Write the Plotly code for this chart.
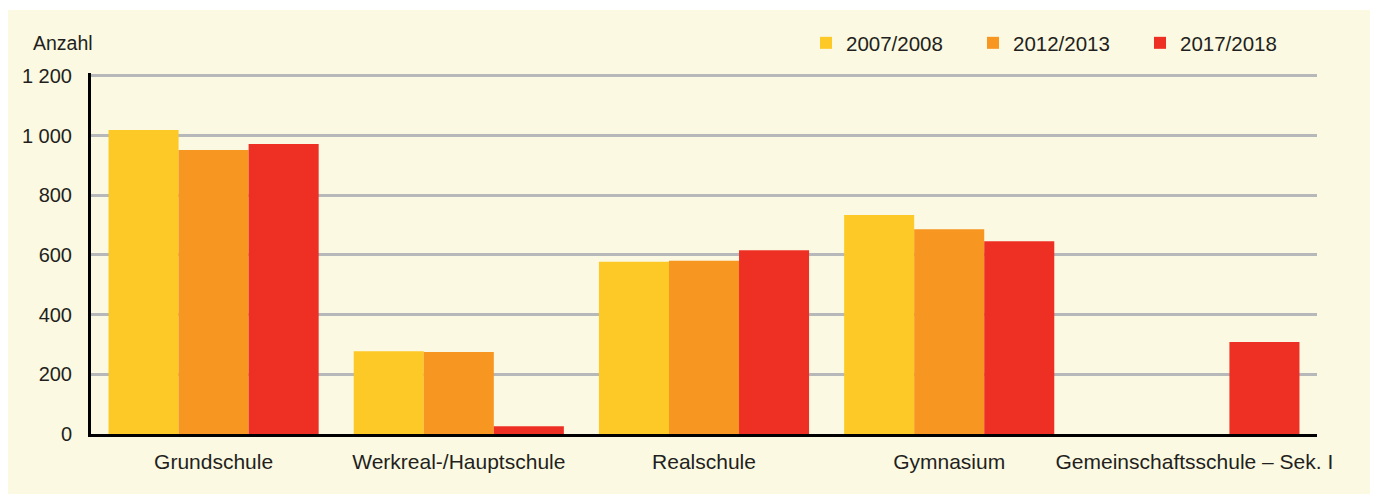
import plotly.graph_objects as go

# ---- data ----
categories = ["Grundschule", "Werkreal-/Hauptschule", "Realschule", "Gymnasium",
              "Gemeinschaftsschule – Sek. I"]
series_names = ["2007/2008", "2012/2013", "2017/2018"]
values_2007 = [1019, 277, 577, 734, None]
values_2012 = [952, 275, 581, 686, None]
values_2017 = [972, 26, 616, 646, 308]
y_tickvals = [0, 200, 400, 600, 800, 1000, 1200]
y_ticktext = ["0", "200", "400", "600", "800", "1 000", "1 200"]
colors = ["#FDC926", "#F79621", "#EE3024"]

# ---- layout geometry (pixels) ----
W, H = 1377, 495
L, R, T, B = 91, 1317, 73, 434
pw, ph = R - L, B - T


def px_x(x):
    return (x - L) / pw


def px_y(y):
    return (B - y) / ph


font_family = "Liberation Sans, Arial, Helvetica, sans-serif"
text_color = "#231f20"

fig = go.Figure()
for name, vals, col in zip(series_names, [values_2007, values_2012, values_2017], colors):
    fig.add_trace(go.Bar(
        x=categories, y=vals, name=name,
        marker=dict(color=col, line=dict(width=0)),
    ))

fig.update_layout(
    width=W, height=H,
    margin=dict(l=L, r=W - R, t=T, b=H - B, pad=0),
    paper_bgcolor="white",
    plot_bgcolor="rgba(0,0,0,0)",
    barmode="group",
    bargap=0.143,
    bargroupgap=0,
    font=dict(family=font_family, size=20, color=text_color),
    showlegend=True,
    legend=dict(
        orientation="h",
        x=px_x(806), xanchor="left",
        y=px_y(43), yanchor="middle",
        bgcolor="rgba(0,0,0,0)",
        font=dict(size=20.5, color=text_color),
        entrywidth=122,
        entrywidthmode="pixels",
        traceorder="normal",
    ),
    xaxis=dict(
        showline=True, linecolor="black", linewidth=3,
        showgrid=False, ticks="", ticklabelstandoff=7,
        tickfont=dict(size=21, color=text_color),
        fixedrange=True,
    ),
    yaxis=dict(
        range=[0, 1210],
        tickvals=y_tickvals, ticktext=y_ticktext,
        showline=True, linecolor="black", linewidth=3,
        showgrid=True, gridcolor="#b7b8b9", gridwidth=2.5,
        zeroline=False, ticks="", ticklabelstandoff=12,
        tickfont=dict(size=20, color=text_color),
        fixedrange=True,
    ),
    shapes=[dict(
        type="rect", xref="paper", yref="paper", layer="below",
        x0=px_x(8), x1=px_x(1370), y0=px_y(494), y1=px_y(10),
        fillcolor="#FBF9E1", line=dict(width=0),
    )],
    annotations=[dict(
        text="Anzahl", xref="paper", yref="paper",
        x=px_x(31), xanchor="left", y=px_y(43), yanchor="middle",
        showarrow=False, font=dict(size=19.5, color=text_color),
    )],
)

fig.write_html(
    "out.html",
    config={"displayModeBar": False},
    post_script="document.body.style.margin='0';document.body.style.padding='0';",
)
